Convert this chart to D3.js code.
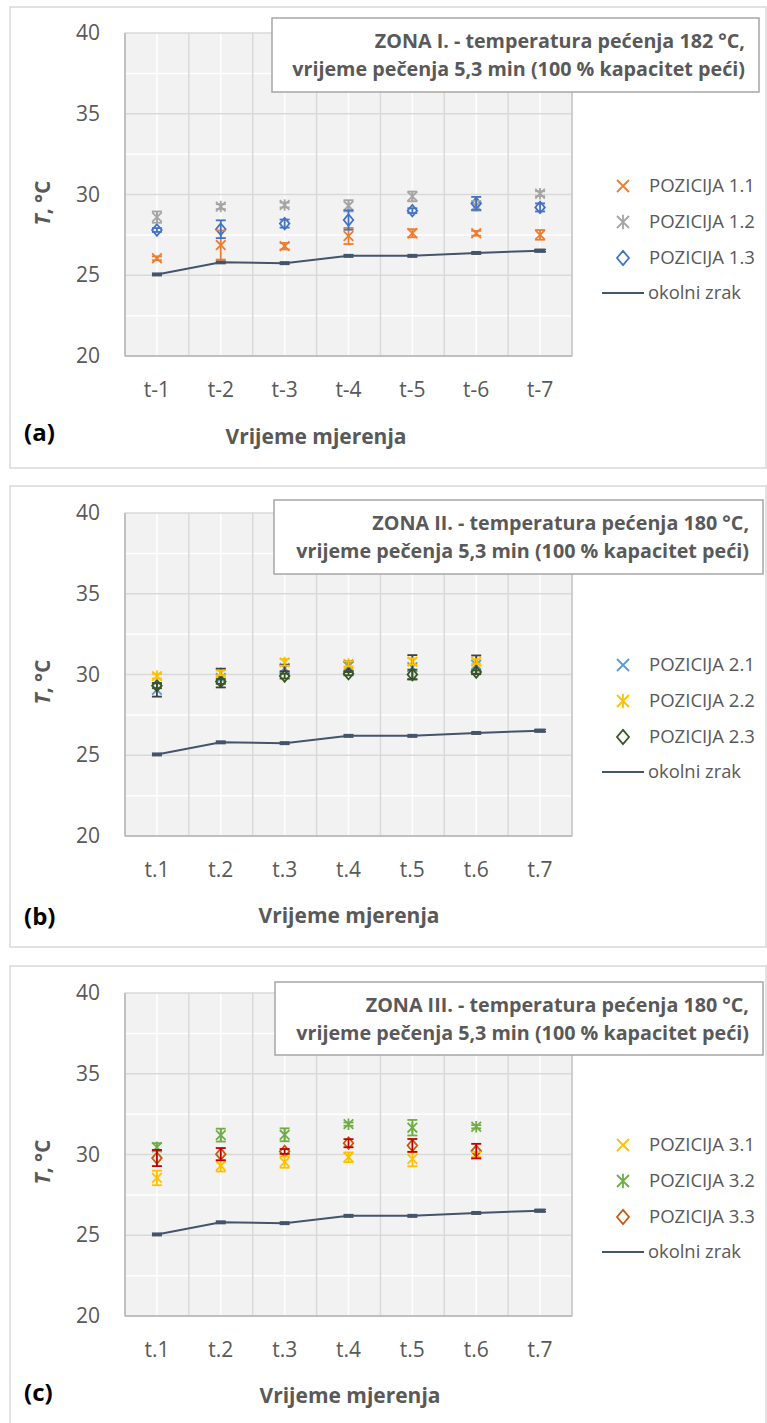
<!DOCTYPE html>
<html><head><meta charset="utf-8">
<script src="https://cdn.jsdelivr.net/npm/d3@7"></script>
<style>body{margin:0;background:#fff}svg{display:block}text{font-family:"Open Sans",sans-serif}</style>
</head><body>
<svg id="c" width="767" height="1423"></svg>
<script>
// ---------- DATA ----------
const catsA = ["t-1","t-2","t-3","t-4","t-5","t-6","t-7"];
const catsBC = ["t.1","t.2","t.3","t.4","t.5","t.6","t.7"];
const yTicks = [20,25,30,35,40];
const ambient = [25.05,25.8,25.75,26.2,26.2,26.38,26.52];
const ambientErr = [0,0,0,0,0,0,0.07];

const p11 = [26.05,26.87,26.8,27.43,27.6,27.6,27.5];
const e11 = [0.12,0.9,0.2,0.5,0.25,0.15,0.3];
const p12 = [28.6,29.25,29.35,29.3,29.88,29.3,30.05];
const e12 = [0.35,0.15,0.15,0.35,0.3,0.3,0.15];
const p13 = [27.8,27.85,28.2,28.42,29.0,29.45,29.2];
const e13 = [0.12,0.55,0.25,0.6,0.15,0.4,0.25];

const p21 = [29.05,29.78,30.4,30.5,30.45,30.6,null];
const e21 = [0.42,0.58,0.2,0.3,0.75,0.58,0];
const p22 = [29.9,30.1,30.75,30.65,30.8,30.8,null];
const e22 = [0.15,0.15,0.2,0.15,0.2,0.15,0];
const p23 = [29.3,29.57,29.9,30.05,30.0,30.15,null];
const e23 = [0.15,0.15,0.15,0.1,0.3,0.1,0];

const p31 = [28.55,29.3,29.53,29.83,29.72,30.0,null];
const e31 = [0.45,0.35,0.35,0.3,0.45,0.15,0];
const p32 = [30.45,31.2,31.22,31.88,31.66,31.72,null];
const e32 = [0.25,0.4,0.4,0.1,0.48,0.1,0];
const p33 = [29.78,30.02,30.19,30.7,30.56,30.21,null];
const e33 = [0.5,0.38,0.15,0.25,0.4,0.45,0];

const titlesA = ["ZONA I. - temperatura pećenja 182 °C,","vrijeme pečenja 5,3 min (100 % kapacitet peći)"];
const titlesB = ["ZONA II. - temperatura pećenja 180 °C,","vrijeme pečenja 5,3 min (100 % kapacitet peći)"];
const titlesC = ["ZONA III. - temperatura pećenja 180 °C,","vrijeme pečenja 5,3 min (100 % kapacitet peći)"];

const panels = [
  {F:7, top:33, cats:catsA, tag:"(a)", titles:titlesA, box:[272,18,759,92], xlabX:316, tagY:433,
   series:[
     {name:"POZICIJA 1.1", v:p11, e:e11, shape:"x", color:"#ed7d31", ec:"#ed7d31"},
     {name:"POZICIJA 1.2", v:p12, e:e12, shape:"star", color:"#a5a5a5", ec:"#a5a5a5"},
     {name:"POZICIJA 1.3", v:p13, e:e13, shape:"diamond", color:"#4472c4", ec:"#4472c4"}]},
  {F:486, top:513, cats:catsBC, tag:"(b)", titles:titlesB, box:[274,500,763,574], xlabX:349, tagY:917,
   series:[
     {name:"POZICIJA 2.1", v:p21, e:e21, shape:"x", color:"#5b9bd5", ec:"#404040"},
     {name:"POZICIJA 2.2", v:p22, e:e22, shape:"star", color:"#ffc000", ec:"#ffc000"},
     {name:"POZICIJA 2.3", v:p23, e:e23, shape:"diamond", color:"#375623", ec:"#375623"}]},
  {F:966, top:993, cats:catsBC, tag:"(c)", titles:titlesC, box:[275,982,763,1055], xlabX:350, tagY:1393,
   series:[
     {name:"POZICIJA 3.1", v:p31, e:e31, shape:"x", color:"#ffc000", ec:"#ffc000"},
     {name:"POZICIJA 3.2", v:p32, e:e32, shape:"star", color:"#70ad47", ec:"#70ad47"},
     {name:"POZICIJA 3.3", v:p33, e:e33, shape:"diamond", color:"#c55a11", ec:"#c00000"}]}
];

// ---------- DRAW ----------
const svg = d3.select("#c");
const TXT = "#595959";
const L = 125, R = 572, PH = 323;

function shapePath(shape, s){
  if(shape==="x") return `M${-s},${-s}L${s},${s}M${-s},${s}L${s},${-s}`;
  if(shape==="star") return `M${-s},${-s}L${s},${s}M${-s},${s}L${s},${-s}M0,${-s*1.2}L0,${s*1.2}`;
  return `M0,${-s*1.2}L${s},0L0,${s*1.2}L${-s},0Z`;
}
function fit(t, w){
  const cur = t.node().getComputedTextLength();
  const fs = parseFloat(t.attr("font-size"));
  t.attr("font-size", (fs*w/cur).toFixed(2));
}

panels.forEach(p=>{
  const g = svg.append("g");
  const bottom = p.top + PH;
  g.append("rect").attr("x",10).attr("y",p.F).attr("width",756).attr("height",461)
    .attr("fill","#fff").attr("stroke","#d9d9d9").attr("stroke-width",1.5);

  const x = d3.scaleBand().domain(p.cats).range([L,R]);
  const y = d3.scaleLinear().domain([20,40]).range([bottom,p.top]);
  const cx = c => x(c)+x.bandwidth()/2;

  g.append("rect").attr("x",L).attr("y",p.top).attr("width",R-L).attr("height",PH).attr("fill","#f2f2f2");
  [22.5,27.5,32.5,37.5].forEach(v=>g.append("line").attr("x1",L).attr("x2",R).attr("y1",y(v)).attr("y2",y(v)).attr("stroke","#fff").attr("stroke-width",1.5));
  p.cats.forEach(c=>g.append("line").attr("x1",cx(c)).attr("x2",cx(c)).attr("y1",p.top).attr("y2",bottom).attr("stroke","#fff").attr("stroke-width",1.5));
  [25,30,35].forEach(v=>g.append("line").attr("x1",L).attr("x2",R).attr("y1",y(v)).attr("y2",y(v)).attr("stroke","#d9d9d9").attr("stroke-width",1.5));
  p.cats.slice(1).forEach(c=>g.append("line").attr("x1",x(c)).attr("x2",x(c)).attr("y1",p.top).attr("y2",bottom).attr("stroke","#d9d9d9").attr("stroke-width",1.5));
  g.append("rect").attr("x",L).attr("y",p.top).attr("width",R-L).attr("height",PH)
    .attr("fill","none").attr("stroke","#d9d9d9").attr("stroke-width",1.5);
  g.append("line").attr("x1",L).attr("x2",L).attr("y1",p.top).attr("y2",bottom).attr("stroke","#b4b4b4").attr("stroke-width",1.5);
  g.append("line").attr("x1",L).attr("x2",R).attr("y1",bottom).attr("y2",bottom).attr("stroke","#b4b4b4").attr("stroke-width",1.5);
  g.append("line").attr("x1",R).attr("x2",R).attr("y1",p.top).attr("y2",bottom).attr("stroke","#c8c8c8").attr("stroke-width",1.5);

  const ya = g.append("g").attr("transform",`translate(${L},0)`)
    .call(d3.axisLeft(y).tickValues(yTicks).tickSize(0).tickPadding(25));
  ya.select(".domain").remove();
  ya.selectAll("text").attr("font-size",21).attr("fill",TXT).style("font-family","'Open Sans',sans-serif");
  const xa = g.append("g").attr("transform",`translate(0,${bottom})`)
    .call(d3.axisBottom(x).tickSize(0).tickPadding(26));
  xa.select(".domain").remove();
  xa.selectAll("text").attr("font-size",21).attr("fill",TXT).style("font-family","'Open Sans',sans-serif");

  const pts = p.cats.map((c,i)=>[cx(c), y(ambient[i])]);
  g.append("path").attr("d",d3.line()(pts)).attr("fill","none").attr("stroke","#44546a").attr("stroke-width",2);
  p.cats.forEach((c,i)=>{
    if(ambientErr[i]>0){
      [ambient[i]-ambientErr[i], ambient[i]+ambientErr[i]].forEach(v=>
        g.append("line").attr("x1",cx(c)-6).attr("x2",cx(c)+6).attr("y1",y(v)).attr("y2",y(v)).attr("stroke","#44546a").attr("stroke-width",1.6));
    }
    g.append("rect").attr("x",cx(c)-5).attr("y",y(ambient[i])-2).attr("width",10).attr("height",4).attr("fill","#44546a");
  });

  p.series.forEach(s=>{
    p.cats.forEach((c,i)=>{
      const v = s.v[i]; if(v==null) return;
      const X = cx(c);
      g.append("path").attr("d",shapePath(s.shape,4.8)).attr("transform",`translate(${X},${y(v)})`)
        .attr("fill","none").attr("stroke",s.color).attr("stroke-width",1.8);
    });
  });
  p.series.forEach(s=>{
    p.cats.forEach((c,i)=>{
      const v = s.v[i]; if(v==null) return;
      const e = s.e[i], X = cx(c);
      g.append("line").attr("x1",X).attr("x2",X).attr("y1",y(v-e)).attr("y2",y(v+e)).attr("stroke",s.ec).attr("stroke-width",1.8);
      [v-e,v+e].forEach(w=>g.append("line").attr("x1",X-5).attr("x2",X+5).attr("y1",y(w)).attr("y2",y(w)).attr("stroke",s.ec).attr("stroke-width",1.8));
    });
  });

  const [bx1,by1,bx2,by2] = p.box;
  g.append("rect").attr("x",bx1).attr("y",by1).attr("width",bx2-bx1).attr("height",by2-by1)
    .attr("fill","#fff").attr("stroke","#a6a6a6").attr("stroke-width",1.5);
  const t2 = g.append("text").attr("x",bx2-14).attr("y",by1+58).attr("text-anchor","end")
    .attr("font-size",18).attr("font-weight","bold").attr("fill",TXT).text(p.titles[1]);
  fit(t2, 453);
  const fsT = t2.attr("font-size");
  g.append("text").attr("x",bx2-14).attr("y",by1+30).attr("text-anchor","end")
    .attr("font-size",fsT).attr("font-weight","bold").attr("fill",TXT).text(p.titles[0]);

  const legY = [p.F+179, p.F+215, p.F+251];
  p.series.forEach((s,i)=>{
    g.append("path").attr("d",shapePath(s.shape,6)).attr("transform",`translate(623,${legY[i]})`)
      .attr("fill","none").attr("stroke",s.color).attr("stroke-width",1.8);
    const t = g.append("text").attr("x",649).attr("y",legY[i]).attr("dy","0.35em")
      .attr("font-size",17).attr("fill",TXT).text(s.name);
    fit(t,106);
  });
  const ly = p.F+286;
  g.append("line").attr("x1",602).attr("x2",644).attr("y1",ly).attr("y2",ly).attr("stroke","#44546a").attr("stroke-width",2);
  const lt = g.append("text").attr("x",648).attr("y",ly).attr("dy","0.35em").attr("font-size",17).attr("fill",TXT).text("okolni zrak");
  fit(lt,93);

  const xt = g.append("text").attr("x",p.xlabX).attr("y",p.F+430).attr("dy","0.35em").attr("text-anchor","middle")
    .attr("font-size",20).attr("font-weight","bold").attr("fill",TXT).text("Vrijeme mjerenja");
  fit(xt,181);
  const yt = g.append("text").attr("transform",`translate(43,${p.F+196}) rotate(-90)`).attr("text-anchor","middle")
    .attr("dy","0.35em").attr("font-size",21).attr("font-weight","bold").attr("fill",TXT);
  yt.append("tspan").attr("font-style","italic").text("T");
  yt.append("tspan").text(", °C");
  g.append("text").attr("x",24).attr("y",p.tagY).attr("dy","0.35em").attr("font-size",24)
    .attr("font-weight","bold").attr("fill","#000").text(p.tag);
});
</script>
</body></html>
